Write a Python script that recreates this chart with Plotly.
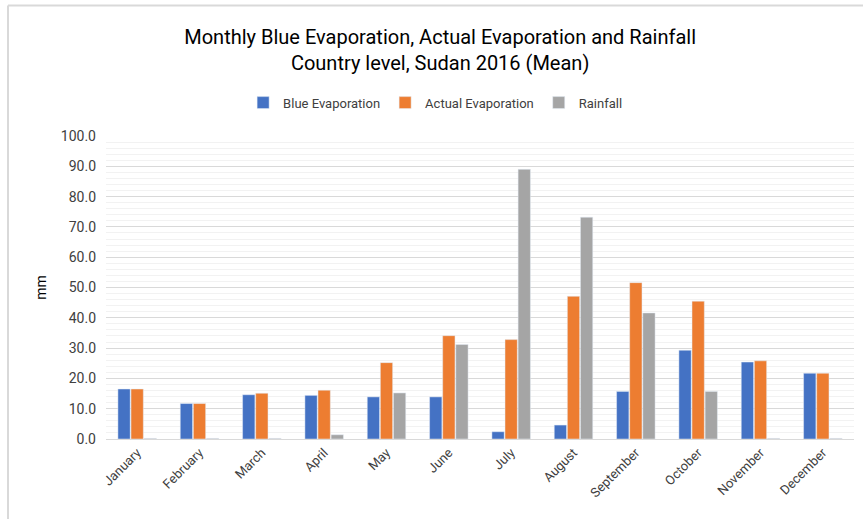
import plotly.graph_objects as go

months = ["January", "February", "March", "April", "May", "June", "July",
          "August", "September", "October", "November", "December"]
blue_evap = [16.5, 11.7, 14.6, 14.4, 13.9, 13.9, 2.4, 4.6, 15.7, 29.3, 25.4, 21.7]
actual_evap = [16.5, 11.7, 15.1, 16.1, 25.2, 34.1, 32.8, 47.1, 51.6, 45.5, 25.8, 21.7]
rainfall = [0.2, 0.2, 0.2, 1.4, 15.2, 31.2, 89.0, 73.2, 41.6, 15.7, 0.2, 0.2]

FONT = "Roboto"

fig = go.Figure()
fig.add_trace(go.Bar(x=months, y=blue_evap, name="Blue Evaporation", marker_color="#4472C4"))
fig.add_trace(go.Bar(x=months, y=actual_evap, name="Actual Evaporation", marker_color="#ED7D31"))
fig.add_trace(go.Bar(x=months, y=rainfall, name="Rainfall", marker_color="#A5A5A5"))

fig.update_layout(
    width=863, height=519,
    margin=dict(l=106, r=9, t=136, b=80),
    paper_bgcolor="white", plot_bgcolor="white",
    barmode="group", bargap=0.37, bargroupgap=0.06,
    title=dict(text="Monthly Blue Evaporation, Actual Evaporation and Rainfall<br>Country level, Sudan 2016 (Mean)",
               x=0.51, xanchor="center", y=0.915, yanchor="middle",
               font=dict(family=FONT, size=20, color="#000000")),
    legend=dict(orientation="h", x=0.44, xanchor="center", y=1.11, yanchor="middle",
                font=dict(family=FONT, size=13, color="#404040"),
                itemwidth=30, traceorder="normal"),
    font=dict(family=FONT, size=13, color="#595959"),
    showlegend=True,
)
fig.update_xaxes(tickangle=-45, showline=True, linecolor="#d9d9d9", ticks="",
                 tickfont=dict(size=13, color="#404040"))
fig.update_yaxes(range=[0, 100], dtick=10, tickformat=".1f",
                 showgrid=True, gridcolor="#d9d9d9", gridwidth=1,
                 minor=dict(dtick=2, showgrid=True, gridcolor="#f2f2f2", gridwidth=1),
                 zeroline=False, ticks="", ticklabelstandoff=9,
                 title=dict(text="mm", font=dict(size=14, color="#000000"), standoff=10),
                 tickfont=dict(size=14, color="#404040"))

fig.add_shape(type="line", xref="paper", yref="paper", x0=-0.131, x1=1.02, y0=1.431, y1=1.431,
              line=dict(color="#d9d9d9", width=2))
fig.add_shape(type="line", xref="paper", yref="paper", x0=-0.131, x1=-0.131, y0=-0.3, y1=1.431,
              line=dict(color="#d9d9d9", width=2))

fig.write_html("out.html")
